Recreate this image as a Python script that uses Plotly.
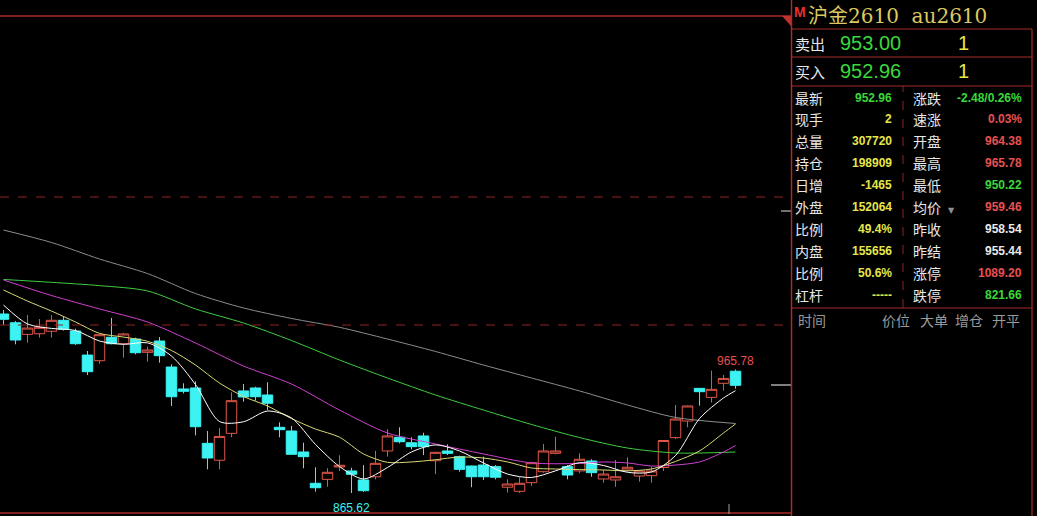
import plotly.graph_objects as go

W, H = 1037, 516
bg = "#000000"
frame_red = "#a82c28"
cyan = "#3cf2f2"
up_red = "#e0574a"
green = "#3ad83a"
red = "#e85050"
yellow = "#e6e64a"
white = "#e8e8e8"
fnt_cn = "Noto Sans CJK SC"
fnt_num = "Liberation Sans"

# daily bars, oldest first
idx = list(range(62))
opens = [1010.8, 1003.7, 994.3, 994.8, 996.8, 1005.7, 997.0, 977.5, 972.9, 991.9,
         986.7, 990.5, 979.7, 988.9, 967.8, 950.0, 950.8, 905.9, 892.2, 914.0,
         948.4, 950.8, 945.1, 918.9, 915.9, 898.9, 873.5, 876.7, 886.7, 883.5,
         876.2, 878.8, 899.7, 910.8, 906.4, 911.9, 891.8, 899.7, 895.1, 887.5,
         888.3, 887.0, 870.3, 867.0, 874.0, 882.9, 897.8, 887.0, 883.5, 891.6,
         877.0, 876.2, 884.3, 879.4, 879.7, 886.3, 910.5, 924.0, 950.5, 943.2,
         954.6, 964.38]
highs = [1014.0, 1005.1, 1010.0, 1006.7, 1010.0, 1009.2, 998.9, 980.8, 994.3, 1007.6,
         995.6, 991.6, 984.3, 992.1, 970.0, 954.6, 956.1, 915.9, 918.3, 947.3,
         954.0, 951.8, 955.4, 923.0, 920.0, 906.4, 886.5, 885.7, 896.2, 886.1,
         888.3, 899.7, 917.3, 918.9, 910.8, 914.5, 899.1, 905.1, 895.9, 887.8,
         895.1, 888.3, 876.7, 878.4, 891.0, 905.4, 911.3, 888.3, 897.8, 893.0,
         884.3, 892.4, 894.6, 884.3, 887.0, 908.6, 937.0, 936.5, 950.8, 964.9,
         961.3, 965.78]
lows = [1001.9, 986.2, 987.5, 991.6, 991.6, 997.3, 985.7, 961.3, 970.5, 986.2,
        975.4, 978.1, 972.1, 971.3, 936.2, 946.3, 912.3, 884.8, 884.8, 910.8,
        939.7, 940.5, 932.9, 910.8, 896.8, 885.7, 866.7, 870.7, 883.5, 865.62,
        866.5, 876.7, 895.1, 905.9, 901.1, 896.4, 881.0, 896.4, 882.9, 870.3,
        876.2, 876.7, 866.0, 865.7, 871.5, 882.1, 897.0, 876.7, 881.6, 878.8,
        874.0, 870.7, 882.9, 874.8, 874.0, 883.5, 909.4, 918.9, 936.4, 938.9,
        948.6, 950.22]
closes = [1006.5, 989.7, 999.4, 1000.0, 1005.7, 998.4, 986.7, 964.0, 994.0, 986.7,
          994.6, 979.4, 981.6, 977.0, 943.7, 948.1, 919.4, 894.0, 911.5, 940.5,
          943.5, 943.7, 938.4, 917.0, 897.0, 895.1, 869.9, 882.4, 888.1, 880.8,
          867.5, 889.7, 911.9, 907.2, 903.2, 903.2, 898.6, 897.8, 884.8, 878.8,
          878.8, 878.4, 872.9, 873.5, 890.2, 899.7, 899.7, 880.2, 893.0, 882.1,
          881.0, 878.8, 886.5, 883.5, 883.5, 908.2, 925.6, 936.2, 947.8, 949.7,
          958.54, 952.96]

# moving averages
ma_short_idx = list(range(0, 61, 2)) + [61]
ma5 = [1018.1, 1002.7, 999.1, 997.4, 988.9, 986.2, 987.4, 976.7, 953.6, 923.6,
       923.4, 932.1, 926.5, 905.0, 887.1, 877.0, 886.3, 898.9, 904.6, 899.7,
       890.0, 881.0, 878.2, 883.6, 890.2, 887.9, 882.4, 882.7, 896.0, 926.0,
       942.7, 948.6]
ma10 = [1030.3, 1021.3, 1013.2, 1004.3, 995.1, 992.1, 988.7, 981.2, 969.4, 954.8,
        943.9, 936.2, 926.0, 917.5, 910.9, 897.3, 890.5, 890.8, 892.6, 894.8,
        894.0, 890.8, 885.9, 885.1, 884.6, 884.3, 883.6, 885.1, 891.2, 899.7,
        914.3, 921.6]
ma20_idx = [0, 4, 8, 12, 16, 20, 24, 28, 32, 36, 40, 44, 48, 50, 52, 54, 56, 58, 60, 61]
ma20 = [1038.4, 1025.8, 1014.9, 1004.3, 987.3, 968.6, 954.0, 932.9, 914.3, 905.4,
        897.3, 890.0, 889.6, 890.8, 890.0, 887.5, 888.3, 890.8, 898.9, 904.2]
ma_long_idx = [0, 4, 8, 12, 16, 20, 24, 28, 32, 36, 40, 44, 48, 52, 56, 61]
ma40 = [1038.8, 1036.5, 1033.8, 1029.5, 1014.9, 1003.5, 989.3, 973.5, 958.9, 945.1,
        932.9, 921.2, 910.6, 902.1, 898.1, 898.9]
ma60 = [1078.9, 1068.8, 1055.4, 1043.6, 1027.4, 1015.7, 1007.2, 1000.0, 990.5, 980.4,
        969.4, 958.9, 948.4, 937.0, 926.9, 922.0]

high_label, low_label = "965.78", "865.62"
high_i, low_i = 61, 29

# quote panel
title_text = "沪金2610  au2610"
ask = ("卖出", "953.00", "1")
bid = ("买入", "952.96", "1")
left_labels = ["最新", "现手", "总量", "持仓", "日增", "外盘", "比例", "内盘", "比例", "杠杆"]
left_values = ["952.96", "2", "307720", "198909", "-1465", "152064", "49.4%", "155656", "50.6%", "-----"]
left_colors = [green] + [yellow] * 9
right_labels = ["涨跌", "速涨", "开盘", "最高", "最低", "均价", "昨收", "昨结", "涨停", "跌停"]
right_values = ["-2.48/0.26%", "0.03%", "964.38", "965.78", "950.22", "959.46",
                "958.54", "955.44", "1089.20", "821.66"]
right_colors = [green, red, red, red, green, red, white, white, red, green]
tick_headers = [("时间", 796), ("价位", 880), ("大单", 918), ("增仓", 953), ("开平", 990)]


def px(x):
    return x / W


def py(y):
    return 1 - y / H


fig = go.Figure()

fig.add_trace(go.Candlestick(
    x=idx, open=opens, high=highs, low=lows, close=closes,
    increasing=dict(line=dict(color=up_red, width=1), fillcolor=bg),
    decreasing=dict(line=dict(color=cyan, width=1), fillcolor=cyan),
    whiskerwidth=0, showlegend=False))

for xs, ys, col in [(ma_long_idx, ma60, "#8c8c8c"), (ma_long_idx, ma40, "#3fce3f"),
                    (ma20_idx, ma20, "#d040d0"), (ma_short_idx, ma10, "#d8d878"),
                    (ma_short_idx, ma5, "#ffffff")]:
    fig.add_trace(go.Scatter(x=xs, y=ys, mode="lines", showlegend=False, hoverinfo="skip",
                             line=dict(color=col, width=1, shape="spline", smoothing=0.8)))

shapes = [
    dict(type="line", xref="paper", yref="paper", x0=0, x1=px(791), y0=py(16), y1=py(16),
         line=dict(color=frame_red, width=1.5)),
    dict(type="line", xref="paper", yref="paper", x0=0, x1=px(791), y0=py(513), y1=py(513),
         line=dict(color=frame_red, width=1.5)),
    dict(type="line", xref="paper", yref="paper", x0=0, x1=px(790), y0=py(197), y1=py(197),
         line=dict(color="#8a2222", width=1, dash="dash")),
    dict(type="line", xref="paper", yref="paper", x0=0, x1=px(790), y0=py(325), y1=py(325),
         line=dict(color="#8a2222", width=1, dash="dash")),
    dict(type="path", xref="paper", yref="paper",
         path=f"M {px(782)},{py(16)} L {px(791)},{py(16)} L {px(791)},{py(26)} Z",
         fillcolor="#c0302c", line=dict(width=0)),
    dict(type="line", xref="paper", yref="paper", x0=px(781), x1=px(791), y0=py(211), y1=py(211),
         line=dict(color="#e0e0e0", width=1)),
    dict(type="line", xref="paper", yref="paper", x0=px(771), x1=px(791), y0=py(385), y1=py(385),
         line=dict(color="#ffffff", width=1)),
    dict(type="line", xref="paper", yref="paper", x0=px(729), x1=px(729), y0=py(504), y1=py(514),
         line=dict(color="#a0a0a0", width=1)),
    # panel frame
    dict(type="line", xref="paper", yref="paper", x0=px(791.5), x1=px(791.5), y0=0, y1=1,
         line=dict(color=frame_red, width=1.5)),
    dict(type="line", xref="paper", yref="paper", x0=px(1032), x1=px(1032), y0=0, y1=py(29),
         line=dict(color=frame_red, width=1.2)),
    dict(type="line", xref="paper", yref="paper", x0=px(903), x1=px(903), y0=py(308), y1=py(86),
         line=dict(color="#8a2222", width=1, dash="dash")),
]
for yy in [29, 57, 86, 308]:
    shapes.append(dict(type="line", xref="paper", yref="paper", x0=px(791.5), x1=px(1032),
                       y0=py(yy), y1=py(yy), line=dict(color=frame_red, width=1.2)))

ann = []


def txt(x, y, s, color, size, anchor="left", family=fnt_cn, weight="normal"):
    ann.append(dict(x=px(x), y=py(y), xref="paper", yref="paper", text=s, showarrow=False,
                    xanchor=anchor, yanchor="middle",
                    font=dict(color=color, size=size, family=family, weight=weight)))


txt(792, 12, "M", "#e03030", 14, family=fnt_num, weight="bold")
txt(806, 16, title_text, "#dcc860", 20, family="DejaVu Serif, " + fnt_cn)
for (lab, price, vol), yy in [(ask, 43), (bid, 71)]:
    txt(793, yy, lab, white, 15)
    txt(903, yy, price, green, 20, anchor="right", family=fnt_num)
    txt(963, yy, vol, yellow, 20, anchor="center", family=fnt_num)

rows_y = [98, 119, 141, 163, 185, 207, 229, 251, 273, 295]
for k, yy in enumerate(rows_y):
    txt(793, yy, left_labels[k], white, 14)
    txt(894, yy, left_values[k], left_colors[k], 12, anchor="right", family=fnt_num, weight="bold")
    txt(911, yy, right_labels[k], white, 14)
    txt(1024, yy, right_values[k], right_colors[k], 12, anchor="right", family=fnt_num, weight="bold")
txt(946, 210, "▼", "#909090", 8, family="DejaVu Sans")
for lab, xx in tick_headers:
    txt(xx, 320, lab, "#9a9a9a", 14)

ann.append(dict(x=high_i, y=highs[high_i], xref="x", yref="y", text=high_label, showarrow=False,
                xanchor="center", yanchor="bottom", yshift=0,
                font=dict(color=red, size=12, family=fnt_num)))
ann.append(dict(x=low_i, y=lows[low_i], xref="x", yref="y", text=low_label, showarrow=False,
                xanchor="center", yanchor="top", yshift=-6,
                font=dict(color=cyan, size=12, family=fnt_num)))

fig.update_xaxes(domain=[0, 790 / W], range=[-0.29, 65.54], visible=False,
                 rangeslider=dict(visible=False), showgrid=False, zeroline=False)
fig.update_yaxes(domain=[0, 1], range=[846.97, 1265.46], visible=False,
                 showgrid=False, zeroline=False)

fig.update_layout(
    width=W, height=H,
    margin=dict(l=0, r=0, t=0, b=0),
    paper_bgcolor=bg, plot_bgcolor=bg,
    boxgap=0.07, boxgroupgap=0.06,
    shapes=shapes, annotations=ann,
    showlegend=False,
    hovermode=False,
)

# page has a default body margin; drop it so the figure fills the window
fig.write_html("out.html", config={"displayModeBar": False},
               post_script="document.body.style.margin='0';document.body.style.overflow='hidden';"
                           "document.body.style.background='#000';")
